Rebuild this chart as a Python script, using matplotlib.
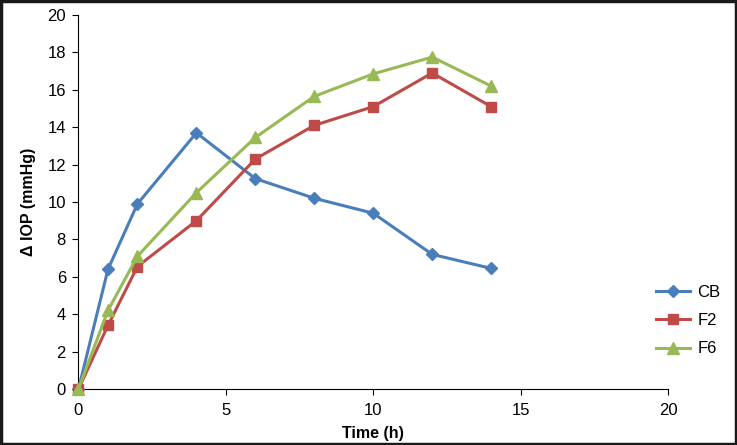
import matplotlib
matplotlib.use("Agg")
import matplotlib.pyplot as plt
from matplotlib.patches import Rectangle

plt.rcParams['font.family'] = ['Liberation Sans', 'DejaVu Sans']

# Data
time_h = [0, 1, 2, 4, 6, 8, 10, 12, 14]
cb = [0, 6.4, 9.9, 13.7, 11.25, 10.2, 9.4, 7.2, 6.45]
f2 = [0, 3.4, 6.55, 9.0, 12.3, 14.1, 15.1, 16.9, 15.1]
f6 = [0, 4.2, 7.1, 10.5, 13.45, 15.65, 16.85, 17.75, 16.2]

series = [
    ('CB', cb, '#4A7EBB', 'D', 6),
    ('F2', f2, '#BE4B48', 's', 7),
    ('F6', f6, '#98B954', '^', 8),
]

fig = plt.figure(figsize=(7.37, 4.45), dpi=100)
ax = fig.add_axes([0.1065, 0.1258, 0.7999, 0.8405])

for name, vals, color, marker, ms in series:
    ax.plot(time_h, vals, color=color, marker=marker, markersize=ms,
            linewidth=2.2, label=name, clip_on=False, zorder=3)

ax.set_xlim(0, 20)
ax.set_ylim(0, 20)
ax.set_xticks([0, 5, 10, 15, 20])
ax.set_yticks(range(0, 21, 2))
ax.spines['top'].set_visible(False)
ax.spines['right'].set_visible(False)
ax.tick_params(direction='out', length=4, labelsize=12, width=0.8)
ax.tick_params(axis='x', pad=6)
ax.tick_params(axis='y', pad=5)
ax.set_xlabel('Time (h)', fontsize=11.5, fontweight='bold', labelpad=6)
ax.set_ylabel('Δ IOP (mmHg)', fontsize=11.5, fontweight='bold', labelpad=8)

ax.legend(loc='center left', bbox_to_anchor=(0.955, 0.183), frameon=False,
          fontsize=12, handlelength=2.0, labelspacing=0.8, handletextpad=0.45)

fig.patches.append(Rectangle((0.002, 0.003), 0.996, 0.994, transform=fig.transFigure,
                             fill=False, edgecolor='#1a1a1a', linewidth=2.5))

fig.savefig('out.png', dpi=100)
